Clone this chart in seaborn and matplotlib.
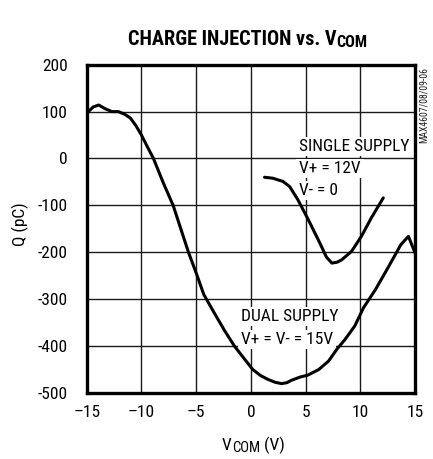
import matplotlib
matplotlib.use("Agg")
import matplotlib.pyplot as plt
from matplotlib.patches import Rectangle
import seaborn as sns
import pandas as pd

# ---- data ----
dual_vcom = [-14.85, -14.4, -13.9, -13.3, -12.7, -12.1, -11.5, -11.0, -10.5, -10.0,
             -9.5, -8.9, -8.0, -7.1, -6.4, -5.7, -4.95, -4.3, -3.35, -2.4,
             -1.5, -0.6, 0.18, 0.9, 1.56, 2.2, 2.8, 3.3, 3.7, 4.5,
             5.2, 6.2, 7.1, 7.85, 8.6, 9.5, 10.3, 11.4, 12.6, 13.7,
             14.4, 15.0]
dual_q = [100, 110, 114, 106, 100, 100, 94, 86, 70, 50,
          27, 0, -52, -100, -150, -200, -247, -290, -329, -367,
          -400, -427, -450, -463, -471, -477, -480, -478, -473, -466,
          -462, -450, -432, -407, -386, -357, -318, -279, -230, -184,
          -166, -201]
single_vcom = [1.25, 2.0, 2.94, 3.55, 4.3, 5.24, 6.3, 6.9, 7.4, 7.9, 8.3, 9.2, 10.1, 11.0, 12.1]
single_q = [-40, -42, -49, -60, -88, -130, -180, -210, -223, -221, -216, -198, -166, -127, -84]

x_ticks = [-15, -10, -5, 0, 5, 10, 15]
x_tick_labels = ["\u201315", "\u201310", "\u20135", "0", "5", "10", "15"]
y_ticks = [-500, -400, -300, -200, -100, 0, 100, 200]
y_tick_labels = ["-500", "-400", "-300", "-200", "-100", "0", "100", "200"]

title_main = "CHARGE INJECTION vs. V"
title_sub = "COM"
xlabel_main = "V"
xlabel_sub = "COM"
xlabel_tail = " (V)"
ylabel = "Q (pC)"
single_label = ["SINGLE SUPPLY", "V+ = 12V", "V- = 0"]
dual_label = ["DUAL SUPPLY", "V+ = V- = 15V"]
side_code = "MAX4607/08/09-06"

# ---- style ----
sns.set_style("white")
FONT = ["Roboto Condensed", "Archivo Narrow", "DejaVu Sans"]
plt.rcParams["font.family"] = FONT
plt.rcParams["axes.unicode_minus"] = False
for k in ["text.color", "xtick.color", "ytick.color", "axes.labelcolor"]:
    plt.rcParams[k] = "black"

W, H = 433, 459
fig = plt.figure(figsize=(W / 100, H / 100), dpi=100)
L, R, T, B = 86.7, 415, 64.7, 393
ax = fig.add_axes([L / W, 1 - B / H, (R - L) / W, (B - T) / H])

df_dual = pd.DataFrame({"vcom": dual_vcom, "q": dual_q})
df_single = pd.DataFrame({"vcom": single_vcom, "q": single_q})
sns.lineplot(data=df_dual, x="vcom", y="q", ax=ax, color="black", lw=2.2,
             sort=False, estimator=None, zorder=4)
sns.lineplot(data=df_single, x="vcom", y="q", ax=ax, color="black", lw=2.2,
             sort=False, estimator=None, zorder=4)

ax.set_xlim(-15, 15)
ax.set_ylim(-500, 200)
ax.set_xticks(x_ticks)
ax.set_xticklabels(x_tick_labels)
ax.set_yticks(y_ticks)
ax.set_yticklabels(y_tick_labels)
ax.set_xlabel("")
ax.set_ylabel("")
ax.tick_params(axis="both", length=0, labelsize=12.5, colors="black")
ax.tick_params(axis="y", pad=13.5)
ax.tick_params(axis="x", pad=8.5)
ax.grid(False)

# grid lines at the tick positions, drawn as explicit collections
ax.vlines(x_ticks, -500, 200, colors="#1a1a1a", linewidth=1.0, zorder=2.5)
ax.hlines(y_ticks, -15, 15, colors="#1a1a1a", linewidth=1.0, zorder=2.5)

for s in ax.spines.values():
    s.set_visible(True)
    s.set_color("black")
    s.set_linewidth(2.4)
    s.set_zorder(5)

labels = []
for txt, yv in zip(single_label, [16.4, -30.4, -77.2]):
    labels.append(ax.text(4.4, yv, txt, fontsize=12.5, va="baseline", ha="left", zorder=3.5))
for txt, yv in zip(dual_label, [-346.8, -396.4]):
    labels.append(ax.text(-0.9, yv, txt, fontsize=12.5, va="baseline", ha="left", zorder=3.5))

# title
t1 = fig.text(128 / W, 1 - 45 / H, title_main, fontsize=14.6, fontweight="bold",
              ha="left", va="baseline")
ax.annotate(title_sub, xy=(1, 1 - 46.7 / H), xycoords=(t1, "figure fraction"),
            fontsize=11.6, fontweight="bold", ha="left", va="baseline",
            annotation_clip=False)

# x label
x1 = fig.text(222 / W, 1 - 450 / H, xlabel_main, fontsize=12.5, ha="left", va="baseline")
x2 = ax.annotate(xlabel_sub, xy=(1, 1 - 452 / H), xycoords=(x1, "figure fraction"),
                 fontsize=10.5, ha="left", va="baseline", annotation_clip=False)
ax.annotate(xlabel_tail, xy=(1, 1 - 450 / H), xycoords=(x2, "figure fraction"),
            fontsize=12.5, ha="left", va="baseline", annotation_clip=False)

# y label
fig.text(20 / W, 1 - 224 / H, ylabel, fontsize=12.5, rotation=90, ha="center", va="center")

# side code
fig.text(424 / W, 1 - 105 / H, side_code, fontsize=7, rotation=90, ha="center",
         va="center", color="#222222")

# white masks behind the in-plot labels (sized from the rendered text)
fig.canvas.draw()
renderer = fig.canvas.get_renderer()
inv = ax.transData.inverted()
for t in labels:
    ext = t.get_window_extent(renderer)
    if 0 < ext.height < 40 and ext.width < 200:
        p = 3
        (x0, y0) = inv.transform((ext.x0 - p, ext.y0 - p + 1))
        (x1d, y1d) = inv.transform((ext.x1 + p, ext.y1 + p - 1))
        ax.add_patch(Rectangle((x0, y0), x1d - x0, y1d - y0, facecolor="white",
                               edgecolor="none", zorder=3))

fig.savefig("out.png", dpi=100)
